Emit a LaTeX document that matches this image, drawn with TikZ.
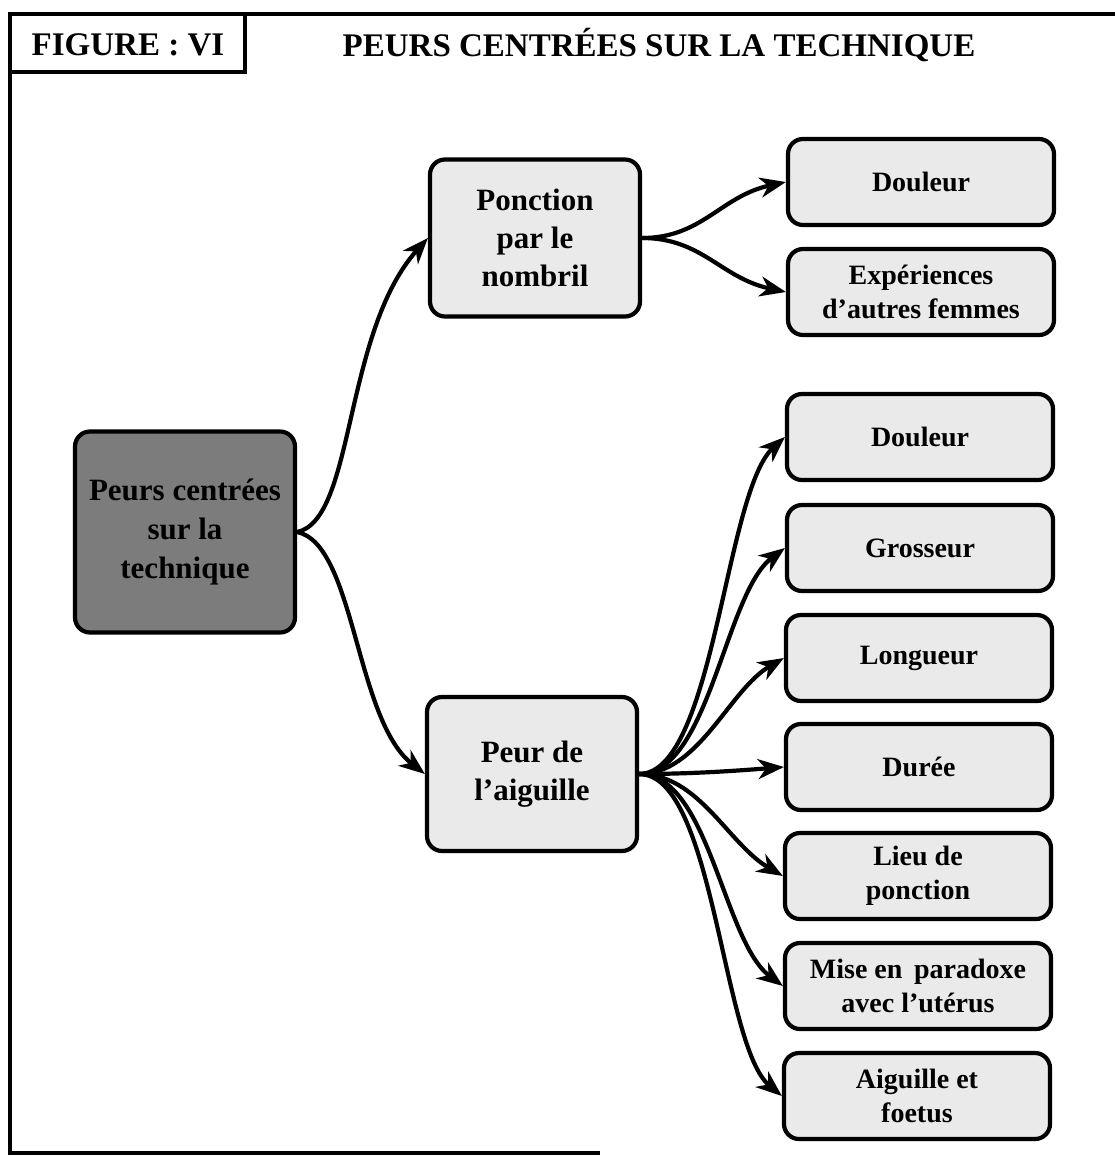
\documentclass[tikz,border=0pt]{standalone}
\usepackage{fontspec}
\setmainfont{Liberation Serif}
\usetikzlibrary{arrows.meta}
\definecolor{leafgray}{HTML}{EAEAEA}
\definecolor{rootgray}{HTML}{7C7C7C}
\begin{document}
\begin{tikzpicture}[x=1pt,y=-1pt,
  box/.style={draw=black, line width=4.2pt, rounded corners=15pt, fill=leafgray,
    align=center, inner sep=0pt},
  leaf/.style={box, minimum width=266pt, minimum height=86pt,
    font=\bfseries\fontsize{28}{34}\selectfont},
  mid/.style={box, minimum width=210pt,
    font=\bfseries\fontsize{31}{38}\selectfont},
  rootbox/.style={box, fill=rootgray, minimum width=220pt, minimum height=201pt,
    font=\bfseries\fontsize{31}{39}\selectfont},
  link/.style={line width=4.2pt, -{Stealth[length=26pt,width=20pt,inset=8pt]}},
  frame/.style={line width=3.4pt}
]
\useasboundingbox (0,0) rectangle (1115,1159);

% outer frame and caption box
\draw[frame] (1115,14) -- (10,14) -- (10,1153) -- (600,1153);
\draw[frame] (10,72) -- (245,72) -- (245,14);
\node[font=\bfseries\fontsize{33}{38}\selectfont] (fig) at (128,45) {FIGURE : VI};
\node[font=\bfseries\fontsize{33}{38}\selectfont] (title) at (659,45) {PEURS CENTRÉES SUR LA TECHNIQUE};

% root and second level
\node[rootbox] (root) at (185,532) {Peurs centrées\\sur la\\technique};
\node[mid, minimum height=157pt] (pn) at (535,238) {Ponction\\par le\\nombril};
\node[mid, minimum height=154pt] (pa) at (532,774) {Peur de\\l’aiguille};

% leaves
\node[leaf] (d1) at (921,182)  {Douleur};
\node[leaf] (ex) at (921,292)  {Expériences\\d’autres femmes};
\node[leaf] (d2) at (920,437)  {Douleur};
\node[leaf] (gr) at (920,548)  {Grosseur};
\node[leaf] (lo) at (919,658)  {Longueur};
\node[leaf] (du) at (919,767)  {Durée};
\node[leaf] (li) at (918,876)  {Lieu de\\ponction};
\node[leaf] (mi) at (918,986)  {Mise en\, paradoxe\\avec l’utérus};
\node[leaf] (ai) at (917,1096) {Aiguille et\\foetus};

% connectors from the root
\draw[link] (root.east) .. controls +(58,-12) and +(-85,95) .. (pn.west);
\draw[link] (root.east) .. controls +(58,12) and +(-70,-55) .. (pa.west);

% connectors from "Ponction par le nombril"
\draw[link] (pn.east) .. controls +(60,0) and +(-65,14) .. (d1.west);
\draw[link] (pn.east) .. controls +(60,0) and +(-65,-14) .. (ex.west);

% connectors from "Peur de l'aiguille"
\draw[link] (pa.east) .. controls +(75,0) and +(-60,55) .. (d2.west);
\draw[link] (pa.east) .. controls +(70,0) and +(-60,45) .. (gr.west);
\draw[link] (pa.east) .. controls +(60,0) and +(-55,32) .. (lo.west);
\draw[link] (pa.east) .. controls +(50,0) and +(-50,4) .. (du.west);
\draw[link] (pa.east) .. controls +(60,0) and +(-55,-32) .. (li.west);
\draw[link] (pa.east) .. controls +(70,0) and +(-60,-45) .. (mi.west);
\draw[link] (pa.east) .. controls +(75,0) and +(-60,-50) .. (ai.west);
\end{tikzpicture}
\end{document}
